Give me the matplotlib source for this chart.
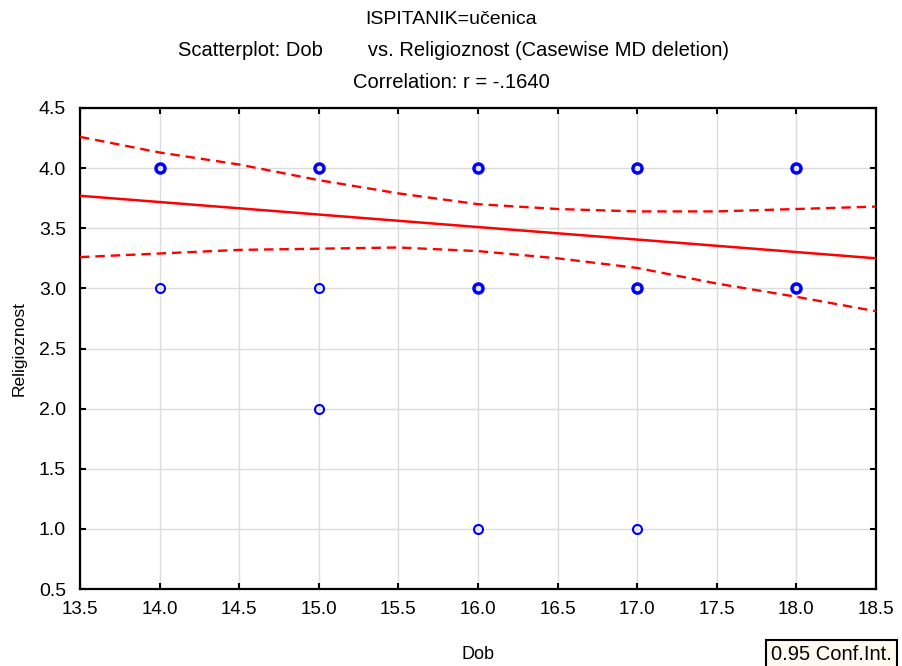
import numpy as np
import matplotlib
matplotlib.use("Agg")
import matplotlib.pyplot as plt

# ---- data ----
dob = [14, 14, 15, 15, 15, 16, 16, 16, 17, 17, 17, 18, 18]
religioznost = [4, 3, 4, 3, 2, 4, 3, 1, 4, 3, 1, 4, 3]
# how many cases sit on each point (thick circles = overlapping cases)
counts = [2, 1, 2, 1, 1, 2, 2, 1, 2, 2, 1, 2, 2]

fit_x = [13.5, 18.5]
fit_y = [3.77, 3.25]

ci_x = [13.5, 14.0, 14.5, 15.0, 15.5, 16.0, 16.5, 17.0, 17.5, 18.0, 18.5]
ci_upper = [4.26, 4.13, 4.03, 3.90, 3.79, 3.70, 3.66, 3.64, 3.64, 3.66, 3.68]
ci_lower = [3.26, 3.29, 3.32, 3.33, 3.34, 3.31, 3.25, 3.17, 3.04, 2.93, 2.81]

xticks = np.arange(13.5, 18.51, 0.5)
yticks = np.arange(0.5, 4.51, 0.5)

plt.rcParams["font.family"] = ["Liberation Sans", "DejaVu Sans"]

fig = plt.figure(figsize=(9.02, 6.66), dpi=100)
ax = fig.add_axes([80 / 902, 1 - 589 / 666, 796 / 902, 481 / 666])

ax.set_xlim(13.5, 18.5)
ax.set_ylim(0.5, 4.5)
ax.set_xticks(xticks)
ax.set_yticks(yticks)
ax.set_xticklabels([f"{v:.1f}" for v in xticks], fontsize=13.5)
ax.set_yticklabels([f"{v:.1f}" for v in yticks], fontsize=14)
ax.tick_params(direction="in", length=4, width=1.5, top=True, right=True)
ax.tick_params(axis="x", pad=9)
ax.tick_params(axis="y", pad=10)
ax.grid(True, color="#dcdcdc", linewidth=1)
ax.set_axisbelow(True)
for sp in ax.spines.values():
    sp.set_linewidth(1.6)

# regression line and confidence band
ax.plot(fit_x, fit_y, color="red", linewidth=1.8, zorder=3)
ax.plot(ci_x, ci_upper, color="red", linewidth=1.7, linestyle=(0, (4, 2.5)), zorder=3)
ax.plot(ci_x, ci_lower, color="red", linewidth=1.7, linestyle=(0, (4, 2.5)), zorder=3)

# points, overlapping cases drawn with a heavier edge
for x, y, c in zip(dob, religioznost, counts):
    ax.plot(x, y, marker="o", markersize=6.5, markerfacecolor="none",
            markeredgecolor="blue", markeredgewidth=1.5 if c == 1 else 2.5,
            linestyle="none", zorder=4, clip_on=False)

ax.set_xlabel("Dob", fontsize=13, labelpad=20)
ax.set_ylabel("Religioznost", fontsize=12.5, labelpad=9)

fig.text(451 / 902, 1 - 20 / 666, "ISPITANIK=učenica", ha="center", va="center",
         fontsize=14)
fig.text(453 / 902, 1 - 50 / 666, "Scatterplot: Dob        vs. Religioznost (Casewise MD deletion)",
         ha="center", va="center", fontsize=14.5)
fig.text(451 / 902, 1 - 83 / 666, "Correlation: r = -.1640", ha="center", va="center",
         fontsize=14.5)

fig.text(771 / 902, 1 - 655 / 666, "0.95 Conf.Int.", ha="left", va="center", fontsize=14.5,
         bbox=dict(boxstyle="square,pad=0.25", facecolor="#fffaf0", edgecolor="black",
                   linewidth=1.5))

fig.savefig("out.png", dpi=100)
